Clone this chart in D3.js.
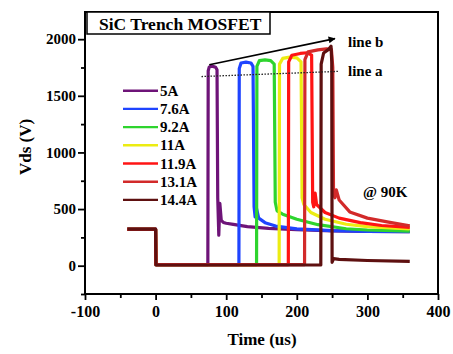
<!DOCTYPE html>
<html><head><meta charset="utf-8">
<script src="https://cdn.jsdelivr.net/npm/d3@7"></script>
<style>
html,body{margin:0;padding:0;background:#fff;}
svg text{font-family:"Liberation Serif","Times New Roman",serif !important;font-weight:bold;fill:#000;}
</style></head>
<body><svg id="c" width="453" height="354"></svg>
<script>
// ---- data (time in us, Vds in V) ----
const seriesNames = ["5A","7.6A","9.2A","11A","11.9A","13.1A","14.4A"];
const seriesColors = ["#6e1478","#1f44ff","#2ed42e","#ecec12","#ff1414","#d22a2a","#5e1010"];
const s5A   = [[-40,325],[0,325],[0.5,10],[74,10],[74.5,1720],[76,1755],[80,1762],[85,1752],[87,1730],[88,600],[89.5,270],[91,550],[93,400],[96,382],[100,375],[110,365],[130,345],[160,330],[200,318],[250,308],[300,303],[360,300]];
const s7_6A = [[-40,320],[0,320],[0.5,10],[118,10],[118.5,1740],[121,1790],[128,1797],[135,1790],[138,1760],[139.5,520],[141,430],[143,505],[146,420],[155,380],[170,350],[200,325],[250,310],[300,303],[360,300]];
const s9_2A = [[-40,320],[0,320],[0.5,10],[143,10],[143.5,1760],[147,1810],[155,1817],[163,1810],[168,1780],[169.5,560],[172,485],[180,455],[200,410],[230,362],[270,326],[300,315],[360,305]];
const s11A  = [[-40,320],[0,320],[0.5,10],[175,10],[175.5,1780],[180,1830],[190,1842],[200,1835],[206,1800],[207.5,600],[210,540],[220,470],[240,410],[270,366],[300,345],[360,325]];
const s11_9A= [[-40,320],[0,320],[0.5,10],[188,10],[188.5,1800],[193,1858],[205,1874],[215,1880],[221,1860],[222.5,560],[224,520],[226,640],[228,540],[240,470],[260,420],[290,380],[320,355],[360,338]];
const s13_1A= [[-40,320],[0,320],[0.5,10],[211,10],[211.5,1820],[216,1888],[230,1905],[242,1915],[249,1910],[251,1750],[252,640],[254,600],[256,670],[260,580],[275,475],[300,420],[330,385],[360,352]];
const s14_4A= [[-40,322],[0,322],[0.5,6],[234,6],[234.5,1780],[238,1878],[245,1910],[248.5,1938],[249.5,1800],[250,30],[252,62],[260,56],[300,46],[360,38]];
const seriesData = [s5A,s7_6A,s9_2A,s11A,s11_9A,s13_1A,s14_4A];
const xMajor = [-100,0,100,200,300,400];
const xMinor = [-50,50,150,250,350];
const yMajor = [0,500,1000,1500,2000];
const yMinor = [-250,250,750,1250,1750];
const lineB = [[76,1775],[254,2005]];
const lineA = [[65,1670],[260,1716]];

// ---- drawing ----
const svg = d3.select("#c");
const x = d3.scaleLinear().domain([-100,400]).range([85,438]);
const y = d3.scaleLinear().domain([-250,2240]).range([294,12]);

const gPlot = svg.append("g");
const line = d3.line().x(d=>x(d[0])).y(d=>y(d[1]));
seriesData.forEach((s,i)=>{
  gPlot.append("path").attr("d",line(s)).attr("fill","none")
    .attr("stroke",seriesColors[i]).attr("stroke-width",3.2)
    .attr("stroke-linejoin","round");
});

// annotations
svg.append("defs").append("marker").attr("id","ah").attr("viewBox","0 0 10 10")
  .attr("refX",9).attr("refY",5).attr("markerWidth",9).attr("markerHeight",7)
  .attr("markerUnits","userSpaceOnUse").attr("orient","auto")
  .append("path").attr("d","M0,0L10,5L0,10Z").attr("fill","#000");
svg.append("path").attr("d",line(lineB)).attr("stroke","#000").attr("stroke-width",1.6)
  .attr("fill","none").attr("marker-end","url(#ah)");
svg.append("path").attr("d",line(lineA)).attr("stroke","#222").attr("stroke-width",1.3)
  .attr("stroke-dasharray","1.5,1.5").attr("fill","none");
svg.append("text").attr("x",348).attr("y",46.5).attr("font-size",15).text("line b");
svg.append("text").attr("x",348).attr("y",75.5).attr("font-size",15).text("line a");
svg.append("text").attr("x",363).attr("y",196.5).attr("font-size",15).text("@ 90K");

// legend
const leg = svg.append("g");
seriesNames.forEach((n,i)=>{
  const yy = 90.7 + i*18.2;
  leg.append("line").attr("x1",123).attr("x2",158).attr("y1",yy).attr("y2",yy)
    .attr("stroke",seriesColors[i]).attr("stroke-width",2.4);
  leg.append("text").attr("x",160).attr("y",yy+5).attr("font-size",15).text(n);
});

// axes
const axB = svg.append("g").attr("transform","translate(0,294)")
  .call(d3.axisBottom(x).tickValues(xMajor).tickSize(6).tickPadding(6).tickFormat(d=>String(d)));
svg.append("g").attr("transform","translate(0,294)")
  .call(d3.axisBottom(x).tickValues(xMinor).tickSize(4).tickFormat(""));
const axL = svg.append("g").attr("transform","translate(85,0)")
  .call(d3.axisLeft(y).tickValues(yMajor).tickSize(7).tickPadding(2).tickFormat(d=>String(d)));
svg.append("g").attr("transform","translate(85,0)")
  .call(d3.axisLeft(y).tickValues(yMinor).tickSize(4).tickFormat(""));
svg.selectAll(".domain").remove();
svg.selectAll(".tick line").attr("stroke","#000").attr("stroke-width",1.8);
axB.attr("font-family",null); axL.attr("font-family",null);
axB.selectAll("text").attr("font-size",16);
axL.selectAll("text").attr("font-size",15);

// frame
svg.append("rect").attr("x",85).attr("y",12).attr("width",353).attr("height",282)
  .attr("fill","none").attr("stroke","#000").attr("stroke-width",2);

// title box
svg.append("rect").attr("x",87).attr("y",12).attr("width",183).attr("height",22)
  .attr("fill","#fff").attr("stroke","#000").attr("stroke-width",1.5);
svg.append("text").attr("x",99).attr("y",30).attr("font-size",17.5).text("SiC Trench MOSFET");

// axis titles
svg.append("text").attr("x",262).attr("y",345).attr("font-size",17)
  .attr("text-anchor","middle").text("Time (us)");
svg.append("text").attr("transform","translate(31,147) rotate(-90)").attr("font-size",17)
  .attr("text-anchor","middle").text("Vds (V)");
</script></body></html>
